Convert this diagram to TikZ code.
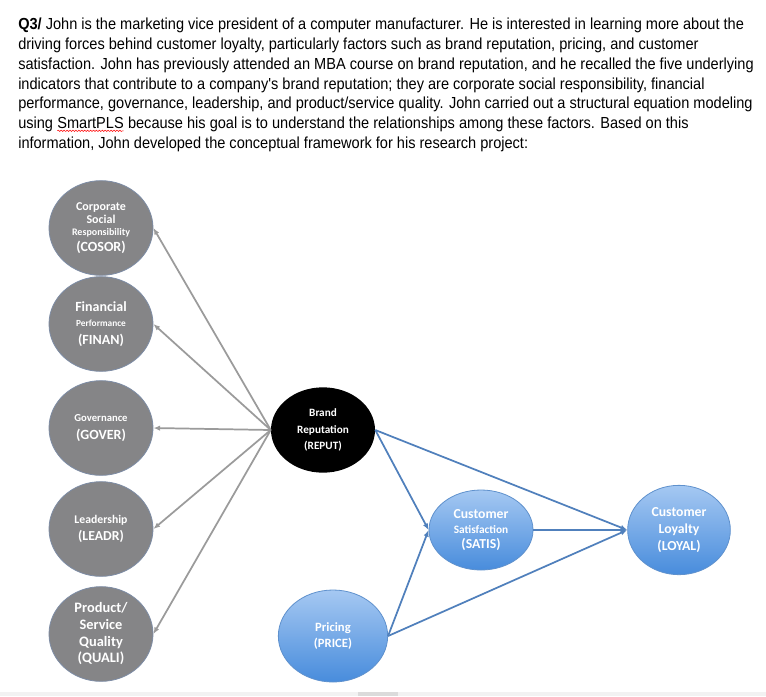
\documentclass[tikz,border=0pt]{standalone}
\usepackage{fontspec}
\setmainfont{Carlito}
\newfontfamily\qfont[FakeStretch=0.91]{Liberation Sans}
\usetikzlibrary{arrows.meta,shapes.geometric,decorations.pathmorphing}

\definecolor{ellgray}{RGB}{133,133,135}
\definecolor{ellgrayline}{RGB}{125,140,165}
\definecolor{arrgray}{RGB}{155,155,155}
\definecolor{bluetop}{RGB}{165,200,242}
\definecolor{bluebot}{RGB}{72,140,220}
\definecolor{blueline}{RGB}{95,145,205}
\definecolor{arrblue}{RGB}{80,128,188}

% red spell-check squiggle under a word
\newcommand{\spellmark}[1]{\tikz[baseline=(w.base)]{\node[inner sep=0pt,outer sep=0pt,text=black,font=\mdseries](w){#1};
  \draw[red,line width=0.4pt,decorate,decoration={snake,amplitude=0.5pt,segment length=2.2pt}]
  ([yshift=-1.6pt]w.south west) -- ([yshift=-1.6pt]w.south east);}}
\newcommand{\fsz}[2]{{\fontsize{#1}{#1}\selectfont #2}}

\begin{document}
\begin{tikzpicture}[x=0.75pt,y=-0.75pt,
    >={Latex[length=5pt,width=4pt]},
    every node/.style={font=\bfseries,text=white,align=center,inner sep=0pt},
    factor/.style={ellipse,draw=ellgrayline,line width=0.6pt,fill=ellgray,minimum width=78pt,minimum height=71pt},
    latent/.style={ellipse,draw=blueline,line width=0.6pt,top color=bluetop,bottom color=bluebot,minimum width=78pt,minimum height=62pt},
    grayarrow/.style={->,draw=arrgray,line width=1.3pt},
    bluearrow/.style={->,draw=arrblue,line width=1.3pt}]

  \useasboundingbox (0,0) rectangle (766,696);
  \fill[white] (0,0) rectangle (766,696);
  \fill[black!5] (0,692) rectangle (766,696);
  \fill[black!14] (358,692) rectangle (398,696);

  % question text
  \node[anchor=north west,text=black,align=left,font=\qfont\fontsize{12}{14.8}\selectfont] (question) at (18,18)
    {\textbf{Q3/} John is the marketing vice president of a computer manufacturer. He is interested in learning more about the\\
     driving forces behind customer loyalty, particularly factors such as brand reputation, pricing, and customer\\
     satisfaction. John has previously attended an MBA course on brand reputation, and he recalled the five underlying\\
     indicators that contribute to a company's brand reputation; they are corporate social responsibility, financial\\
     performance, governance, leadership, and product/service quality. John carried out a structural equation modeling\\
     using \spellmark{SmartPLS} because his goal is to understand the relationships among these factors. Based on this\\
     information, John developed the conceptual framework for his research project:};

  % indicators
  \node[factor,font=\bfseries\fontsize{9}{9.3}\selectfont] (cosor) at (101,228)
    {Corporate\\Social\\\fsz{7.5}{Responsibility}\\[2.5pt]\fsz{10.5}{(COSOR)}};
  \node[factor,font=\bfseries\fontsize{10.5}{11.5}\selectfont] (finan) at (101,324)
    {Financial\\\fsz{7}{Performance}\\[1.5pt](FINAN)};
  \node[factor,font=\bfseries\fontsize{10.5}{13.5}\selectfont] (gover) at (101,428)
    {\fsz{8}{Governance}\\(GOVER)};
  \node[factor,font=\bfseries\fontsize{10.3}{12.8}\selectfont] (leadr) at (101,529)
    {\fsz{8.8}{Leadership}\\(LEADR)};
  \node[factor,font=\bfseries\fontsize{10.8}{12.5}\selectfont] (quali) at (101,634)
    {Product/\\Service\\Quality\\(QUALI)};

  % constructs
  \node[ellipse,fill=black,minimum width=78pt,minimum height=64pt,font=\bfseries\fontsize{8.4}{12.3}\selectfont] (reput) at (323,430)
    {Brand\\Reputation\\(REPUT)};
  \node[latent,minimum height=60pt,font=\bfseries\fontsize{10.3}{11}\selectfont] (satis) at (481,530)
    {Customer\\\fsz{8.5}{Satisfaction}\\(SATIS)};
  \node[latent,minimum width=77pt,minimum height=67pt,font=\bfseries\fontsize{10.3}{12.5}\selectfont] (loyal) at (679,530)
    {Customer\\Loyalty\\(LOYAL)};
  \node[latent,minimum width=82pt,minimum height=69pt,font=\bfseries\fontsize{9.5}{11.5}\selectfont] (price) at (333,636)
    {Pricing\\(PRICE)};

  \foreach \f in {cosor,finan,gover,leadr,quali}
    \draw[grayarrow] (reput.west) -- (\f.east);

  \draw[bluearrow] (reput.east) -- (loyal.west);
  \draw[bluearrow] (reput.east) -- (satis.west);
  \draw[bluearrow] (satis.east) -- (loyal.west);
  \draw[bluearrow] (price.east) -- (satis.west);
  \draw[bluearrow] (price.east) -- (loyal.west);
\end{tikzpicture}
\end{document}
